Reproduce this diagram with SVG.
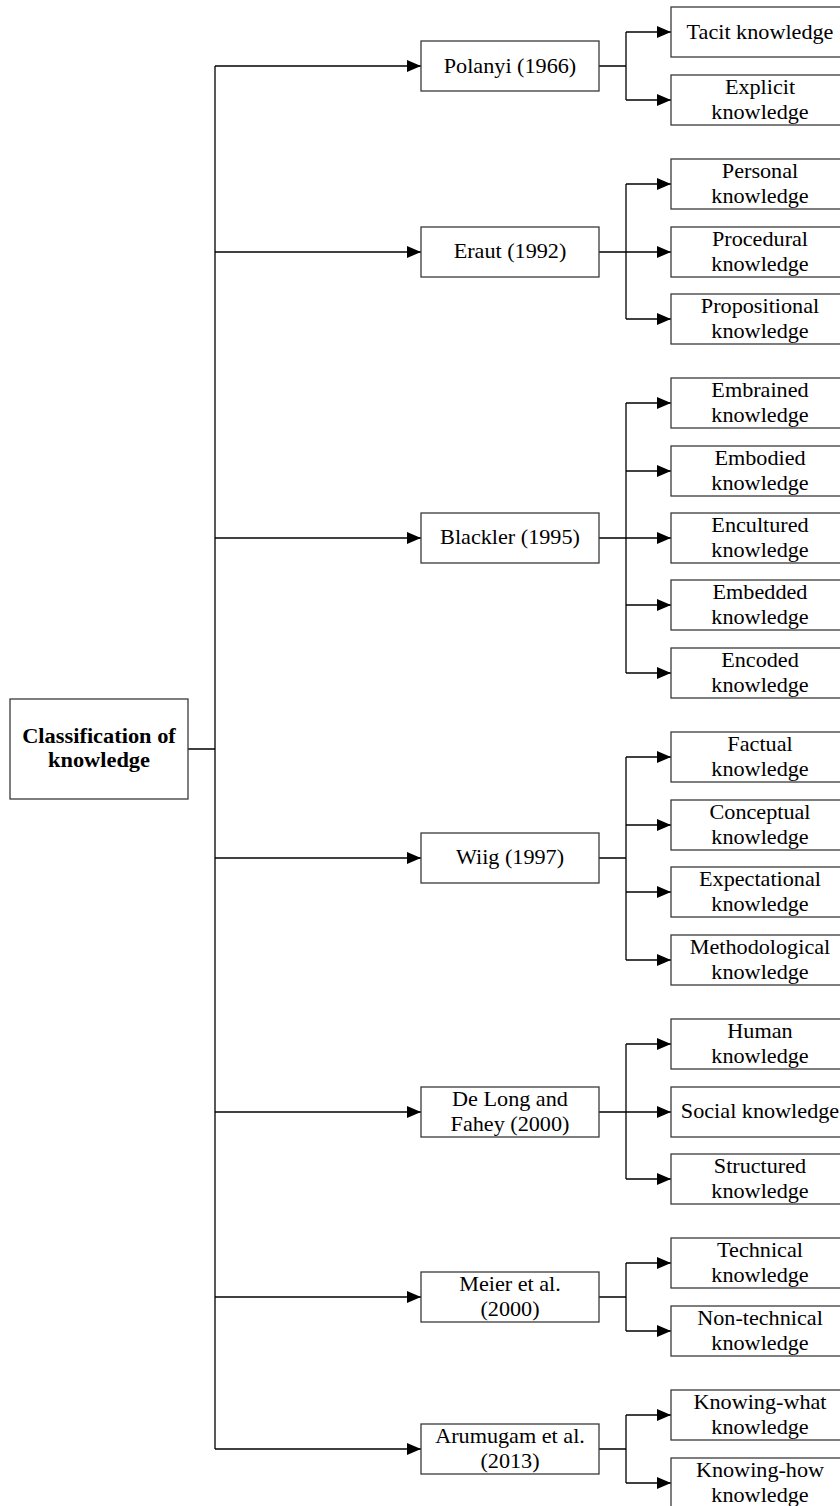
<svg xmlns="http://www.w3.org/2000/svg" width="840" height="1506" viewBox="0 0 840 1506">
<style>
.box{fill:#fff;stroke:#3a3a3a;stroke-width:1.3}
.t{font-family:"Liberation Serif","Times New Roman",serif;font-size:20px;fill:#000;text-anchor:middle}
.b{font-weight:bold}
.c{fill:none;stroke:#000;stroke-width:1.3}
</style>
<defs>
<marker id="ah" markerUnits="userSpaceOnUse" markerWidth="14" markerHeight="12" refX="14" refY="6" orient="auto">
<path d="M0,0 L14,6 L0,12 Z" fill="#000"/>
</marker>
</defs>
<g id="connectors">
<path class="c" d="M188,749 H215 M215,66 V1449"/>
<path class="c" d="M215,66 H421" marker-end="url(#ah)"/>
<path class="c" d="M215,252 H421" marker-end="url(#ah)"/>
<path class="c" d="M215,538 H421" marker-end="url(#ah)"/>
<path class="c" d="M215,858 H421" marker-end="url(#ah)"/>
<path class="c" d="M215,1112 H421" marker-end="url(#ah)"/>
<path class="c" d="M215,1297 H421" marker-end="url(#ah)"/>
<path class="c" d="M215,1449 H421" marker-end="url(#ah)"/>
<path class="c" d="M599,66 H626 M626,32 V100"/>
<path class="c" d="M626,32 H671" marker-end="url(#ah)"/>
<path class="c" d="M626,100 H671" marker-end="url(#ah)"/>
<path class="c" d="M599,252 H626 M626,184 V319"/>
<path class="c" d="M626,184 H671" marker-end="url(#ah)"/>
<path class="c" d="M626,252 H671" marker-end="url(#ah)"/>
<path class="c" d="M626,319 H671" marker-end="url(#ah)"/>
<path class="c" d="M599,538 H626 M626,403 V673"/>
<path class="c" d="M626,403 H671" marker-end="url(#ah)"/>
<path class="c" d="M626,471 H671" marker-end="url(#ah)"/>
<path class="c" d="M626,538 H671" marker-end="url(#ah)"/>
<path class="c" d="M626,605 H671" marker-end="url(#ah)"/>
<path class="c" d="M626,673 H671" marker-end="url(#ah)"/>
<path class="c" d="M599,858 H626 M626,757 V960"/>
<path class="c" d="M626,757 H671" marker-end="url(#ah)"/>
<path class="c" d="M626,825 H671" marker-end="url(#ah)"/>
<path class="c" d="M626,892 H671" marker-end="url(#ah)"/>
<path class="c" d="M626,960 H671" marker-end="url(#ah)"/>
<path class="c" d="M599,1112 H626 M626,1044 V1179"/>
<path class="c" d="M626,1044 H671" marker-end="url(#ah)"/>
<path class="c" d="M626,1112 H671" marker-end="url(#ah)"/>
<path class="c" d="M626,1179 H671" marker-end="url(#ah)"/>
<path class="c" d="M599,1297 H626 M626,1263 V1331"/>
<path class="c" d="M626,1263 H671" marker-end="url(#ah)"/>
<path class="c" d="M626,1331 H671" marker-end="url(#ah)"/>
<path class="c" d="M599,1449 H626 M626,1415 V1483"/>
<path class="c" d="M626,1415 H671" marker-end="url(#ah)"/>
<path class="c" d="M626,1483 H671" marker-end="url(#ah)"/>
</g>
<g id="root">
<rect class="box" x="10" y="699" width="178" height="100"/>
<text class="t b" transform="translate(99 0) scale(1.12 1)" y="743">Classification of</text>
<text class="t b" transform="translate(99 0) scale(1.12 1)" y="767">knowledge</text>
</g>
<g id="polanyi">
<rect class="box" x="421" y="41" width="178" height="50"/>
<text class="t" transform="translate(510 0) scale(1.11 1)" y="73.5">Polanyi (1966)</text>
</g>
<g id="eraut">
<rect class="box" x="421" y="227" width="178" height="50"/>
<text class="t" transform="translate(510 0) scale(1.11 1)" y="258.5">Eraut (1992)</text>
</g>
<g id="blackler">
<rect class="box" x="421" y="513" width="178" height="50"/>
<text class="t" transform="translate(510 0) scale(1.11 1)" y="544.5">Blackler (1995)</text>
</g>
<g id="wiig">
<rect class="box" x="421" y="833" width="178" height="50"/>
<text class="t" transform="translate(510 0) scale(1.11 1)" y="864.5">Wiig (1997)</text>
</g>
<g id="delong">
<rect class="box" x="421" y="1087" width="178" height="50"/>
<text class="t" transform="translate(510 0) scale(1.11 1)" y="1106">De Long and</text>
<text class="t" transform="translate(510 0) scale(1.11 1)" y="1131">Fahey (2000)</text>
</g>
<g id="meier">
<rect class="box" x="421" y="1272" width="178" height="50"/>
<text class="t" transform="translate(510 0) scale(1.11 1)" y="1291">Meier et al.</text>
<text class="t" transform="translate(510 0) scale(1.11 1)" y="1316">(2000)</text>
</g>
<g id="arumugam">
<rect class="box" x="421" y="1424" width="178" height="50"/>
<text class="t" transform="translate(510 0) scale(1.11 1)" y="1443">Arumugam et al.</text>
<text class="t" transform="translate(510 0) scale(1.11 1)" y="1468">(2013)</text>
</g>
<g id="tacit">
<rect class="box" x="671" y="7" width="178" height="50"/>
<text class="t" transform="translate(760 0) scale(1.11 1)" y="39">Tacit knowledge</text>
</g>
<g id="explicit">
<rect class="box" x="671" y="75" width="178" height="50"/>
<text class="t" transform="translate(760 0) scale(1.11 1)" y="94">Explicit</text>
<text class="t" transform="translate(760 0) scale(1.11 1)" y="119">knowledge</text>
</g>
<g id="personal">
<rect class="box" x="671" y="159" width="178" height="50"/>
<text class="t" transform="translate(760 0) scale(1.11 1)" y="178">Personal</text>
<text class="t" transform="translate(760 0) scale(1.11 1)" y="203">knowledge</text>
</g>
<g id="procedural">
<rect class="box" x="671" y="227" width="178" height="50"/>
<text class="t" transform="translate(760 0) scale(1.11 1)" y="246">Procedural</text>
<text class="t" transform="translate(760 0) scale(1.11 1)" y="271">knowledge</text>
</g>
<g id="propositional">
<rect class="box" x="671" y="294" width="178" height="50"/>
<text class="t" transform="translate(760 0) scale(1.11 1)" y="313">Propositional</text>
<text class="t" transform="translate(760 0) scale(1.11 1)" y="338">knowledge</text>
</g>
<g id="embrained">
<rect class="box" x="671" y="378" width="178" height="50"/>
<text class="t" transform="translate(760 0) scale(1.11 1)" y="397">Embrained</text>
<text class="t" transform="translate(760 0) scale(1.11 1)" y="422">knowledge</text>
</g>
<g id="embodied">
<rect class="box" x="671" y="446" width="178" height="50"/>
<text class="t" transform="translate(760 0) scale(1.11 1)" y="465">Embodied</text>
<text class="t" transform="translate(760 0) scale(1.11 1)" y="490">knowledge</text>
</g>
<g id="encultured">
<rect class="box" x="671" y="513" width="178" height="50"/>
<text class="t" transform="translate(760 0) scale(1.11 1)" y="532">Encultured</text>
<text class="t" transform="translate(760 0) scale(1.11 1)" y="557">knowledge</text>
</g>
<g id="embedded">
<rect class="box" x="671" y="580" width="178" height="50"/>
<text class="t" transform="translate(760 0) scale(1.11 1)" y="599">Embedded</text>
<text class="t" transform="translate(760 0) scale(1.11 1)" y="624">knowledge</text>
</g>
<g id="encoded">
<rect class="box" x="671" y="648" width="178" height="50"/>
<text class="t" transform="translate(760 0) scale(1.11 1)" y="667">Encoded</text>
<text class="t" transform="translate(760 0) scale(1.11 1)" y="692">knowledge</text>
</g>
<g id="factual">
<rect class="box" x="671" y="732" width="178" height="50"/>
<text class="t" transform="translate(760 0) scale(1.11 1)" y="751">Factual</text>
<text class="t" transform="translate(760 0) scale(1.11 1)" y="776">knowledge</text>
</g>
<g id="conceptual">
<rect class="box" x="671" y="800" width="178" height="50"/>
<text class="t" transform="translate(760 0) scale(1.11 1)" y="819">Conceptual</text>
<text class="t" transform="translate(760 0) scale(1.11 1)" y="844">knowledge</text>
</g>
<g id="expectational">
<rect class="box" x="671" y="867" width="178" height="50"/>
<text class="t" transform="translate(760 0) scale(1.11 1)" y="886">Expectational</text>
<text class="t" transform="translate(760 0) scale(1.11 1)" y="911">knowledge</text>
</g>
<g id="methodological">
<rect class="box" x="671" y="935" width="178" height="50"/>
<text class="t" transform="translate(760 0) scale(1.11 1)" y="954">Methodological</text>
<text class="t" transform="translate(760 0) scale(1.11 1)" y="979">knowledge</text>
</g>
<g id="human">
<rect class="box" x="671" y="1019" width="178" height="50"/>
<text class="t" transform="translate(760 0) scale(1.11 1)" y="1038">Human</text>
<text class="t" transform="translate(760 0) scale(1.11 1)" y="1063">knowledge</text>
</g>
<g id="social">
<rect class="box" x="671" y="1087" width="178" height="50"/>
<text class="t" transform="translate(760 0) scale(1.11 1)" y="1118">Social knowledge</text>
</g>
<g id="structured">
<rect class="box" x="671" y="1154" width="178" height="50"/>
<text class="t" transform="translate(760 0) scale(1.11 1)" y="1173">Structured</text>
<text class="t" transform="translate(760 0) scale(1.11 1)" y="1198">knowledge</text>
</g>
<g id="technical">
<rect class="box" x="671" y="1238" width="178" height="50"/>
<text class="t" transform="translate(760 0) scale(1.11 1)" y="1257">Technical</text>
<text class="t" transform="translate(760 0) scale(1.11 1)" y="1282">knowledge</text>
</g>
<g id="nontechnical">
<rect class="box" x="671" y="1306" width="178" height="50"/>
<text class="t" transform="translate(760 0) scale(1.11 1)" y="1325">Non-technical</text>
<text class="t" transform="translate(760 0) scale(1.11 1)" y="1350">knowledge</text>
</g>
<g id="knowingwhat">
<rect class="box" x="671" y="1390" width="178" height="50"/>
<text class="t" transform="translate(760 0) scale(1.11 1)" y="1409">Knowing-what</text>
<text class="t" transform="translate(760 0) scale(1.11 1)" y="1434">knowledge</text>
</g>
<g id="knowinghow">
<rect class="box" x="671" y="1458" width="178" height="50"/>
<text class="t" transform="translate(760 0) scale(1.11 1)" y="1477">Knowing-how</text>
<text class="t" transform="translate(760 0) scale(1.11 1)" y="1502">knowledge</text>
</g>
</svg>
